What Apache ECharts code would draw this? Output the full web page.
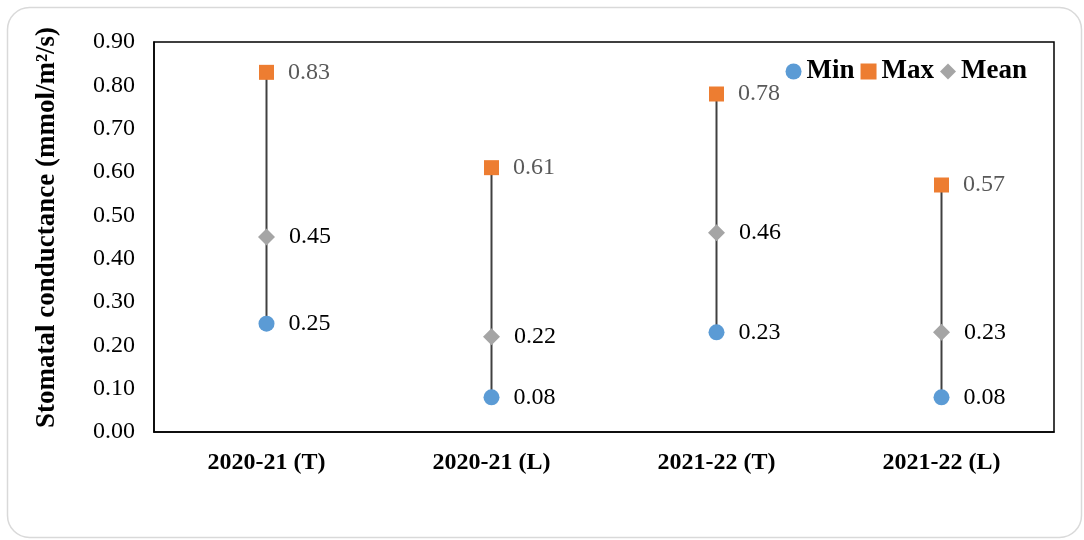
<!DOCTYPE html>
<html>
<head>
<meta charset="utf-8">
<script src="https://cdn.jsdelivr.net/npm/echarts@6/dist/echarts.min.js"></script>
<style>
  html, body { margin: 0; padding: 0; background: #fff; }
  #chart { width: 1084px; height: 540px; }
</style>
</head>
<body>
<div id="chart"></div>
<script>
// Stomatal conductance by season and site
const categories = ['2020-21 (T)', '2020-21 (L)', '2021-22 (T)', '2021-22 (L)'];
const minValues  = [0.25, 0.08, 0.23, 0.08];
const maxValues  = [0.83, 0.61, 0.78, 0.57];
const meanValues = [0.45, 0.22, 0.46, 0.23];
const yTicks = { min: 0, max: 0.9, interval: 0.1 };

const FONT = '"Liberation Serif", "Times New Roman", serif';

const chart = echarts.init(document.getElementById('chart'));

const valueLabel = (color) => ({
  show: true,
  position: 'right',
  distance: 14,
  fontFamily: FONT,
  fontSize: 24,
  color: color,
  formatter: (p) => Number(p.value[1]).toFixed(2)
});

chart.setOption({
  animation: false,
  backgroundColor: '#fff',
  graphic: [{
    type: 'rect',
    left: 5, top: 5,
    shape: { width: 1074, height: 530, r: 22 },
    style: { fill: 'none', stroke: '#d9d9d9', lineWidth: 1.5 },
    silent: true,
    z: -10
  }],
  grid: {
    left: 154, right: 30, top: 42, bottom: 108,
    show: true, borderColor: '#000', borderWidth: 1.5, backgroundColor: 'transparent'
  },
  legend: {
    right: 52, top: 53,
    itemWidth: 16, itemHeight: 16, itemGap: 6,
    textStyle: { fontFamily: FONT, fontSize: 27, fontWeight: 'bold', color: '#000' },
    data: [
      { name: 'Min', icon: 'circle' },
      { name: 'Max', icon: 'rect' },
      { name: 'Mean', icon: 'diamond' }
    ]
  },
  xAxis: {
    type: 'category',
    data: categories,
    boundaryGap: true,
    axisLine: { lineStyle: { color: '#000', width: 1.5 } },
    axisTick: { show: false },
    axisLabel: { fontFamily: FONT, fontSize: 24, fontWeight: 'bold', color: '#000', margin: 19 }
  },
  yAxis: {
    type: 'value',
    min: yTicks.min, max: yTicks.max, interval: yTicks.interval,
    name: 'Stomatal conductance (mmol/m²/s)',
    nameLocation: 'middle',
    nameGap: 93,
    nameTextStyle: {
      fontFamily: FONT, fontSize: 27, fontWeight: 'bold', color: '#000',
      padding: [0, 0, 0, 19]
    },
    axisLine: { show: true, lineStyle: { color: '#000', width: 1.5 } },
    axisTick: { show: false },
    splitLine: { show: false },
    axisLabel: {
      fontFamily: FONT, fontSize: 24, color: '#000', margin: 19,
      formatter: (v) => v.toFixed(2)
    }
  },
  series: [
    {
      // high-low line joining min and max of each category
      type: 'custom',
      name: 'range',
      z: 1,
      silent: true,
      data: categories.map((c, i) => [i, minValues[i], maxValues[i]]),
      renderItem: (params, api) => {
        const lo = api.coord([api.value(0), api.value(1)]);
        const hi = api.coord([api.value(0), api.value(2)]);
        return {
          type: 'line',
          shape: { x1: lo[0], y1: lo[1], x2: hi[0], y2: hi[1] },
          style: { stroke: '#404040', lineWidth: 2 }
        };
      }
    },
    {
      name: 'Min', type: 'scatter', z: 3,
      symbol: 'circle', symbolSize: 16,
      itemStyle: { color: '#5b9bd5', opacity: 1 },
      label: valueLabel('#000'),
      data: minValues.map((v, i) => [i, v])
    },
    {
      name: 'Max', type: 'scatter', z: 3,
      symbol: 'rect', symbolSize: 15,
      itemStyle: { color: '#ed7d31', opacity: 1 },
      label: valueLabel('#595959'),
      data: maxValues.map((v, i) => [i, v])
    },
    {
      name: 'Mean', type: 'scatter', z: 3,
      symbol: 'diamond', symbolSize: [17, 17],
      itemStyle: { color: '#a5a5a5', opacity: 1 },
      label: valueLabel('#000'),
      data: meanValues.map((v, i) => [i, v])
    }
  ]
});
</script>
</body>
</html>
